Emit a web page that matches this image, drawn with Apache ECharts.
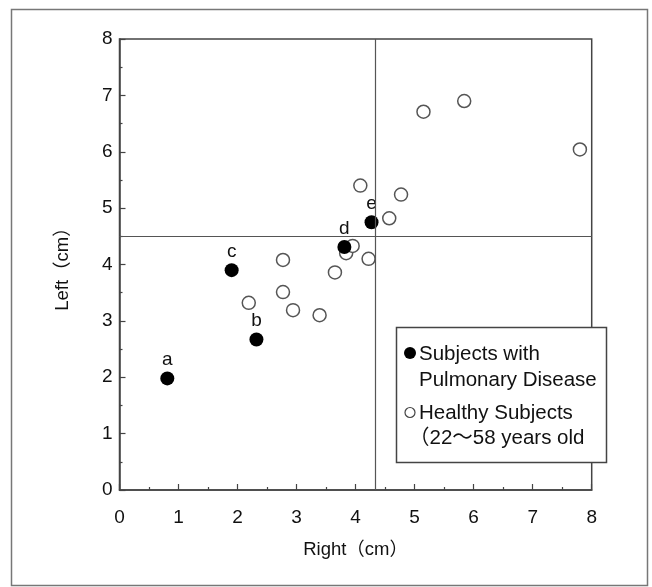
<!DOCTYPE html>
<html><head><meta charset="utf-8">
<script src="https://cdn.jsdelivr.net/npm/echarts@6.0.0/dist/echarts.min.js"></script>
<style>html,body{margin:0;padding:0;background:#fff}#c{width:652px;height:587px}</style>
</head><body><div id="c"></div>
<script>
// Subjects with pulmonary disease (filled)
const diseaseX = [0.81, 2.32, 1.90, 3.81, 4.27];
const diseaseY = [1.98, 2.67, 3.90, 4.31, 4.75];
const diseaseLabels = ['a', 'b', 'c', 'd', 'e'];
// Healthy subjects (open)
const healthyX = [2.19, 2.77, 2.94, 3.39, 2.77, 3.65, 3.84, 3.95, 4.22, 4.08, 4.57, 4.77, 5.15, 5.84, 7.80];
const healthyY = [3.32, 3.51, 3.19, 3.10, 4.08, 3.86, 4.20, 4.33, 4.10, 5.40, 4.82, 5.24, 6.71, 6.90, 6.04];
// Reference lines
const refRight = 4.33;
const refLeft = 4.5;
const xTitle = 'Right（cm）';
const yTitle = 'Left（cm）';
const legendLines = ['Subjects with', 'Pulmonary Disease', 'Healthy Subjects', '（22～58 years old'];

const FONT = '"Liberation Sans", Arial, "Noto Sans CJK JP", sans-serif';
const chart = echarts.init(document.getElementById('c'), null, {renderer: 'canvas'});

const axisCommon = {
  type: 'value', min: 0, max: 8, interval: 1,
  axisLine: {show: true, lineStyle: {color: '#444', width: 1.5}},
  axisTick: {show: true, inside: true, length: 6, lineStyle: {color: '#444', width: 1.2}},
  minorTick: {show: true, splitNumber: 2, length: 3, lineStyle: {color: '#444', width: 1.2}},
  splitLine: {show: false},
  axisLabel: {color: '#111', fontSize: 19, fontFamily: FONT},
  nameLocation: 'middle',
  nameTextStyle: {color: '#111', fontSize: 18.5, fontFamily: FONT}
};

chart.setOption({
  animation: false,
  backgroundColor: '#fff',
  grid: {left: 119.5, right: 60.3, top: 39, bottom: 97, show: true, borderColor: '#444', borderWidth: 1.5, backgroundColor: 'transparent'},
  xAxis: Object.assign({}, axisCommon, {
    name: xTitle, nameGap: 51,
    axisLabel: Object.assign({}, axisCommon.axisLabel, {margin: 18})
  }),
  yAxis: Object.assign({}, axisCommon, {
    name: yTitle, nameGap: 47,
    axisLabel: Object.assign({}, axisCommon.axisLabel, {margin: 7})
  }),
  series: [
    {
      type: 'scatter', name: 'Healthy Subjects',
      data: healthyX.map((x, i) => [x, healthyY[i]]),
      symbol: 'circle', symbolSize: 13,
      itemStyle: {color: '#fff', borderColor: '#555', borderWidth: 1.5, opacity: 1},
      z: 3,
      markLine: {
        silent: true, symbol: 'none', label: {show: false},
        lineStyle: {color: '#555', width: 1.2, type: 'solid'},
        data: [{xAxis: refRight}, {yAxis: refLeft}]
      }
    },
    {
      type: 'scatter', name: 'Subjects with Pulmonary Disease',
      data: diseaseX.map((x, i) => ({value: [x, diseaseY[i]], label: {formatter: diseaseLabels[i]}})),
      symbol: 'circle', symbolSize: 14,
      itemStyle: {color: '#000', opacity: 1},
      label: {show: true, position: 'top', distance: 2, color: '#111', fontSize: 19, fontFamily: FONT},
      z: 4
    }
  ],
  graphic: [
    {type: 'rect', z: 100, shape: {x: 11.5, y: 9.5, width: 636, height: 576}, style: {fill: 'none', stroke: '#777', lineWidth: 1.5}},
    {type: 'rect', z: 100, shape: {x: 396.5, y: 327.5, width: 210, height: 135}, style: {fill: '#fff', stroke: '#444', lineWidth: 1.5}},
    {type: 'circle', z: 101, shape: {cx: 410, cy: 353, r: 6}, style: {fill: '#000'}},
    {type: 'circle', z: 101, shape: {cx: 410, cy: 412.5, r: 5}, style: {fill: '#fff', stroke: '#444', lineWidth: 1.2}},
    {type: 'text', z: 101, x: 419, y: 354, style: {text: legendLines[0], fill: '#111', font: '20.5px ' + FONT, verticalAlign: 'middle'}},
    {type: 'text', z: 101, x: 419, y: 380, style: {text: legendLines[1], fill: '#111', font: '20.5px ' + FONT, verticalAlign: 'middle'}},
    {type: 'text', z: 101, x: 419, y: 413, style: {text: legendLines[2], fill: '#111', font: '20.5px ' + FONT, verticalAlign: 'middle'}},
    {type: 'text', z: 101, x: 409, y: 438, style: {text: legendLines[3], fill: '#111', font: '20.5px ' + FONT, verticalAlign: 'middle'}}
  ]
});
</script>
</body></html>
